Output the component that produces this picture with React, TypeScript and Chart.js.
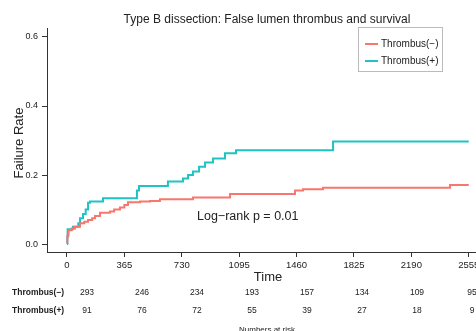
import React, { useEffect, useRef } from "react";
import { Chart, registerables } from "chart.js";

Chart.register(...registerables);

const TITLE = "Type B dissection: False lumen thrombus and survival";
const SERIES_NAMES = ["Thrombus(\u2212)", "Thrombus(+)"];
const COLORS = ["#F8766D", "#1FC3C4"];

const negTimes = [0, 3, 10, 30, 51, 83, 110, 134, 160, 178, 210, 273, 300, 337, 365, 388, 464, 528, 591, 801, 1037, 1450, 1501, 1628, 2436, 2555];
const negRates = [0.004, 0.025, 0.04, 0.045, 0.05, 0.06, 0.065, 0.07, 0.075, 0.081, 0.091, 0.094, 0.1, 0.106, 0.113, 0.121, 0.123, 0.125, 0.13, 0.135, 0.145, 0.155, 0.159, 0.163, 0.171, 0.171];

const posTimes = [0, 2, 4, 38, 72, 83, 102, 119, 134, 146, 229, 445, 458, 642, 738, 770, 801, 840, 878, 929, 1005, 1075, 1692, 2555];
const posRates = [0, 0.02, 0.043, 0.05, 0.06, 0.075, 0.087, 0.1, 0.12, 0.123, 0.133, 0.155, 0.168, 0.181, 0.19, 0.2, 0.21, 0.224, 0.236, 0.248, 0.263, 0.272, 0.297, 0.297];

const xTicks = [0, 365, 730, 1095, 1460, 1825, 2190, 2555];
const yTicks = [0, 0.2, 0.4, 0.6];

const riskNeg = [293, 246, 234, 193, 157, 134, 109, 95];
const riskPos = [91, 76, 72, 55, 39, 27, 18, 9];

const FONT = "'Liberation Sans', Arial, Helvetica, sans-serif";

const overlay = {
  id: "overlay",
  afterDraw(chart: any) {
    const ctx = chart.ctx as CanvasRenderingContext2D;
    ctx.save();
    ctx.fillStyle = "#222";
    // title
    ctx.font = `12px ${FONT}`;
    ctx.textAlign = "center";
    ctx.textBaseline = "middle";
    ctx.fillText(TITLE, 267, 20);
    // y title
    ctx.save();
    ctx.translate(19, 143);
    ctx.rotate(-Math.PI / 2);
    ctx.font = `13px ${FONT}`;
    ctx.fillText("Failure Rate", 0, 0);
    ctx.restore();
    // x title
    ctx.font = `13px ${FONT}`;
    ctx.fillText("Time", 268, 277);
    // log-rank
    ctx.textAlign = "left";
    ctx.font = `12.5px ${FONT}`;
    ctx.fillText("Log\u2212rank p = 0.01", 197, 217);
    // legend
    ctx.strokeStyle = "#bbbbbb";
    ctx.lineWidth = 1;
    ctx.strokeRect(358.5, 27.5, 84, 44);
    ctx.font = `10px ${FONT}`;
    SERIES_NAMES.forEach((name, i) => {
      const y = 44 + i * 17;
      ctx.strokeStyle = COLORS[i];
      ctx.lineWidth = 2;
      ctx.beginPath();
      ctx.moveTo(365, y);
      ctx.lineTo(378, y);
      ctx.stroke();
      ctx.fillStyle = "#222";
      ctx.fillText(name, 381, y);
    });
    // risk table
    ctx.font = `bold 8.5px ${FONT}`;
    ctx.textAlign = "left";
    ctx.fillText(SERIES_NAMES[0], 12, 293);
    ctx.fillText(SERIES_NAMES[1], 12, 311);
    ctx.font = `8.5px ${FONT}`;
    ctx.textAlign = "center";
    const rows = [riskNeg, riskPos];
    rows.forEach((row, r) => {
      row.forEach((v, i) => {
        ctx.fillText(String(v), 87 + i * 55, 293 + r * 18);
      });
    });
    ctx.font = `8px ${FONT}`;
    ctx.fillText("Numbers at risk", 267, 330);
    ctx.restore();
  },
};

export default function App() {
  const ref = useRef<HTMLCanvasElement | null>(null);
  useEffect(() => {
    document.body.style.margin = "0";
    const canvas = ref.current!;
    const chart = new Chart(canvas, {
      type: "line",
      data: {
        datasets: [
          {
            label: SERIES_NAMES[0],
            data: negTimes.map((t, i) => ({ x: t, y: negRates[i] })),
            borderColor: COLORS[0],
            borderWidth: 2,
            pointRadius: 0,
            stepped: "before",
            fill: false,
          },
          {
            label: SERIES_NAMES[1],
            data: posTimes.map((t, i) => ({ x: t, y: posRates[i] })),
            borderColor: COLORS[1],
            borderWidth: 2,
            pointRadius: 0,
            stepped: "before",
            fill: false,
          },
        ],
      },
      options: {
        responsive: false,
        animation: false,
        devicePixelRatio: 1,
        layout: { padding: { top: 28, right: 0, left: 0, bottom: 0 } },
        plugins: {
          legend: { display: false },
          title: { display: false },
          tooltip: { enabled: false },
        },
        scales: {
          x: {
            type: "linear",
            min: -127,
            max: 2601,
            afterBuildTicks: (s: any) => {
              s.ticks = xTicks.map((v) => ({ value: v }));
            },
            afterFit: (s: any) => {
              s.height = 79;
              s.paddingLeft = 0;
              s.paddingRight = 0;
            },
            ticks: {
              autoSkip: false,
              maxRotation: 0,
              padding: 3,
              color: "#222",
              font: { family: FONT, size: 9.5 },
              callback: (v: any) => String(v),
            },
            grid: { display: true, drawOnChartArea: false, drawTicks: true, tickLength: 5, color: "#333" },
            border: { display: true, color: "#333", width: 1 },
          },
          y: {
            type: "linear",
            min: -0.023,
            max: 0.626,
            afterBuildTicks: (s: any) => {
              s.ticks = yTicks.map((v) => ({ value: v }));
            },
            afterFit: (s: any) => {
              s.width = 47;
              s.paddingTop = 0;
              s.paddingBottom = 0;
            },
            ticks: {
              padding: 4,
              color: "#222",
              font: { family: FONT, size: 9 },
              callback: (v: any) => Number(v).toFixed(1),
            },
            grid: { display: true, drawOnChartArea: false, drawTicks: true, tickLength: 5, color: "#333" },
            border: { display: true, color: "#333", width: 1 },
          },
        },
      },
      plugins: [overlay],
    } as any);
    return () => chart.destroy();
  }, []);
  return (
    <div style={{ position: "fixed", left: 0, top: 0, width: 476, height: 331, background: "#fff" }}>
      <canvas ref={ref} width={476} height={331} />
    </div>
  );
}
